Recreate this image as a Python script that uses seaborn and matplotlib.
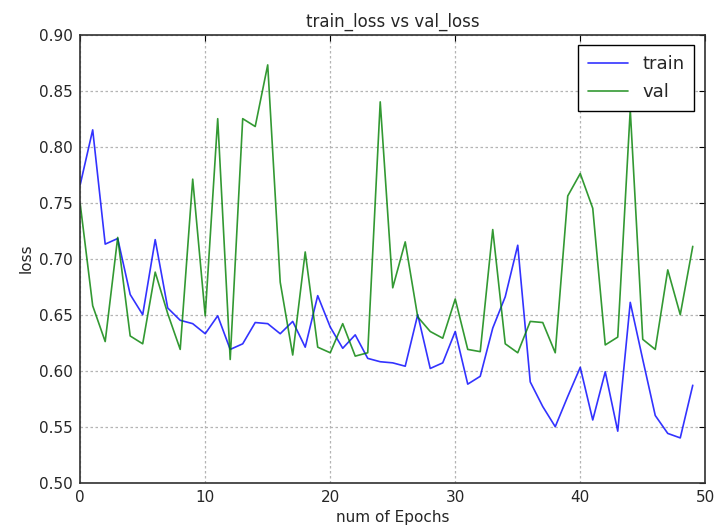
import numpy as np
import pandas as pd
import matplotlib
matplotlib.use("Agg")
import matplotlib.pyplot as plt
import seaborn as sns

epochs = list(range(50))
train_loss = [
    0.766, 0.815, 0.713, 0.718, 0.668, 0.650, 0.717, 0.656, 0.645, 0.642,
    0.633, 0.649, 0.619, 0.624, 0.643, 0.642, 0.633, 0.644, 0.621, 0.667,
    0.639, 0.620, 0.632, 0.611, 0.608, 0.607, 0.604, 0.650, 0.602, 0.607,
    0.635, 0.588, 0.595, 0.638, 0.666, 0.712, 0.590, 0.568, 0.550, 0.577,
    0.603, 0.556, 0.599, 0.546, 0.661, 0.610, 0.560, 0.544, 0.540, 0.587,
]
val_loss = [
    0.749, 0.658, 0.626, 0.719, 0.631, 0.624, 0.688, 0.651, 0.619, 0.771,
    0.649, 0.825, 0.610, 0.825, 0.818, 0.873, 0.679, 0.614, 0.706, 0.621,
    0.616, 0.642, 0.613, 0.616, 0.840, 0.674, 0.715, 0.648, 0.635, 0.629,
    0.664, 0.619, 0.617, 0.726, 0.624, 0.616, 0.644, 0.643, 0.616, 0.756,
    0.776, 0.745, 0.623, 0.630, 0.833, 0.628, 0.619, 0.690, 0.650, 0.711,
]
x_ticks = [0, 10, 20, 30, 40, 50]
y_ticks = [0.50, 0.55, 0.60, 0.65, 0.70, 0.75, 0.80, 0.85, 0.90]

df = pd.DataFrame({
    "epoch": epochs + epochs,
    "loss": train_loss + val_loss,
    "split": ["train"] * len(epochs) + ["val"] * len(epochs),
})

sns.set_style("white")
plt.rcParams["font.family"] = ["DejaVu Sans"]
plt.rcParams["xtick.direction"] = "in"
plt.rcParams["ytick.direction"] = "in"

fig = plt.figure(figsize=(7.16, 5.29), dpi=100)
ax = fig.add_axes([0.112, 0.0875, 0.873, 0.847])

sns.lineplot(data=df, x="epoch", y="loss", hue="split",
             palette={"train": "#0000ff", "val": "#008000"},
             linewidth=1.2, alpha=0.8, ax=ax)

ax.set_xlim(0, 50)
ax.set_ylim(0.50, 0.90)
ax.set_xticks(x_ticks)
ax.set_yticks(y_ticks)
ax.set_yticklabels([f"{v:.2f}" for v in y_ticks])
ax.tick_params(axis="both", labelsize=11, length=4, width=0.8,
               top=True, right=True, color="black", pad=5)
ax.grid(True, linestyle=(0, (2, 2)), color="#b4b4b4", linewidth=0.9)

for s in ax.spines.values():
    s.set_color("#303030")
    s.set_linewidth(1.2)

ax.set_title("train_loss vs val_loss", fontsize=12)
ax.set_xlabel("num of Epochs", fontsize=11)
ax.set_ylabel("loss", fontsize=11)

leg = ax.legend(loc="upper right", fontsize=13, frameon=True, fancybox=False,
                borderaxespad=0.6, handlelength=2.2, labelspacing=0.55,
                borderpad=0.55)
leg.get_frame().set_edgecolor("black")
leg.get_frame().set_linewidth(1.0)
leg.get_frame().set_alpha(1.0)

fig.savefig("out.png", dpi=100, facecolor="white")
